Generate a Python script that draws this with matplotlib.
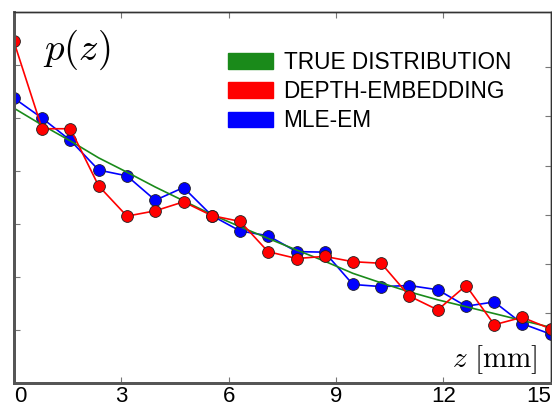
import numpy as np
import matplotlib.pyplot as plt
from matplotlib.patches import Patch

plt.rcParams['font.family'] = ['Liberation Sans', 'DejaVu Sans']
plt.rcParams['mathtext.fontset'] = 'cm'

# posizioni z [mm] dei campioni
z = [0.0, 0.79, 1.58, 2.37, 3.16, 3.95, 4.74, 5.53, 6.32, 7.1,
     7.9, 8.68, 9.47, 10.26, 11.05, 11.84, 12.63, 13.42, 14.2, 15.0]

p_true = [5.19, 4.87, 4.57, 4.25, 3.98, 3.70, 3.44, 3.18, 2.95, 2.73,
          2.51, 2.30, 2.07, 1.89, 1.72, 1.57, 1.44, 1.31, 1.18, 1.05]
p_depth = [6.45, 4.80, 4.80, 3.72, 3.15, 3.25, 3.42, 3.16, 3.05, 2.48,
           2.35, 2.39, 2.29, 2.26, 1.64, 1.38, 1.84, 1.10, 1.24, 1.02]
p_mle = [5.38, 5.00, 4.58, 4.02, 3.91, 3.45, 3.69, 3.16, 2.87, 2.78,
         2.48, 2.47, 1.86, 1.82, 1.84, 1.76, 1.45, 1.53, 1.12, 0.92]

labels = ['TRUE DISTRIBUTION', 'DEPTH-EMBEDDING', 'MLE-EM']
colors = ['#1a8a1a', '#ff0000', '#0000ff']
xticks = [0, 3, 6, 9, 12, 15]

fig = plt.figure(figsize=(5.52, 4.07), dpi=100)
ax = fig.add_axes([0.025, 0.059, 0.973, 0.911])

# blu sotto, rosso sopra
ax.plot(z, p_mle, color=colors[2], lw=1.2, marker='o', ms=8.5,
        mfc=colors[2], mec='#222222', mew=0.6)
ax.plot(z, p_true, color=colors[0], lw=1.2)
ax.plot(z, p_depth, color=colors[1], lw=1.2, marker='o', ms=8.5,
        mfc=colors[1], mec='#222222', mew=0.6)

ax.set_xlim(0, 15)
ax.set_ylim(0, 7)
ax.set_xticks(xticks)
ax.set_yticks([1, 2, 3, 4, 5, 6])
ax.set_yticklabels([])
ax.tick_params(direction='in', top=True, right=False, length=4,
               color='#777777', labelsize=16, pad=2)
tl = ax.get_xticklabels()
tl[0].set_ha('left')
tl[-1].set_ha('right')

# tacche a destra su scala diversa
ax2 = ax.twinx()
ax2.set_ylim(0, 1)
ax2.set_yticks([0.189, 0.321, 0.453, 0.585, 0.72, 0.852])
ax2.set_yticklabels([])
ax2.tick_params(direction='in', length=4, color='#777777')

for a in (ax, ax2):
    for s in ['left', 'bottom']:
        a.spines[s].set_linewidth(2)
        a.spines[s].set_color('#555555')
    for s in ['top', 'right']:
        a.spines[s].set_linewidth(1)
        a.spines[s].set_color('#333333')

handles = [Patch(color=c, label=l) for c, l in zip(colors, labels)]
ax2.legend(handles=handles, loc='upper left', frameon=False, fontsize=16.3,
           handlelength=2.0, handleheight=0.7, handletextpad=0.45,
           labelspacing=0.27, bbox_to_anchor=(0.361, 0.95))

ax.text(0.054, 0.957, r'$p(z)$', transform=ax.transAxes, fontsize=28,
        va='top', ha='left')
ax.text(0.974, 0.02, r'$z\ [\mathrm{mm}]$', transform=ax.transAxes,
        fontsize=21, va='bottom', ha='right')

fig.savefig('out.png', dpi=100)
